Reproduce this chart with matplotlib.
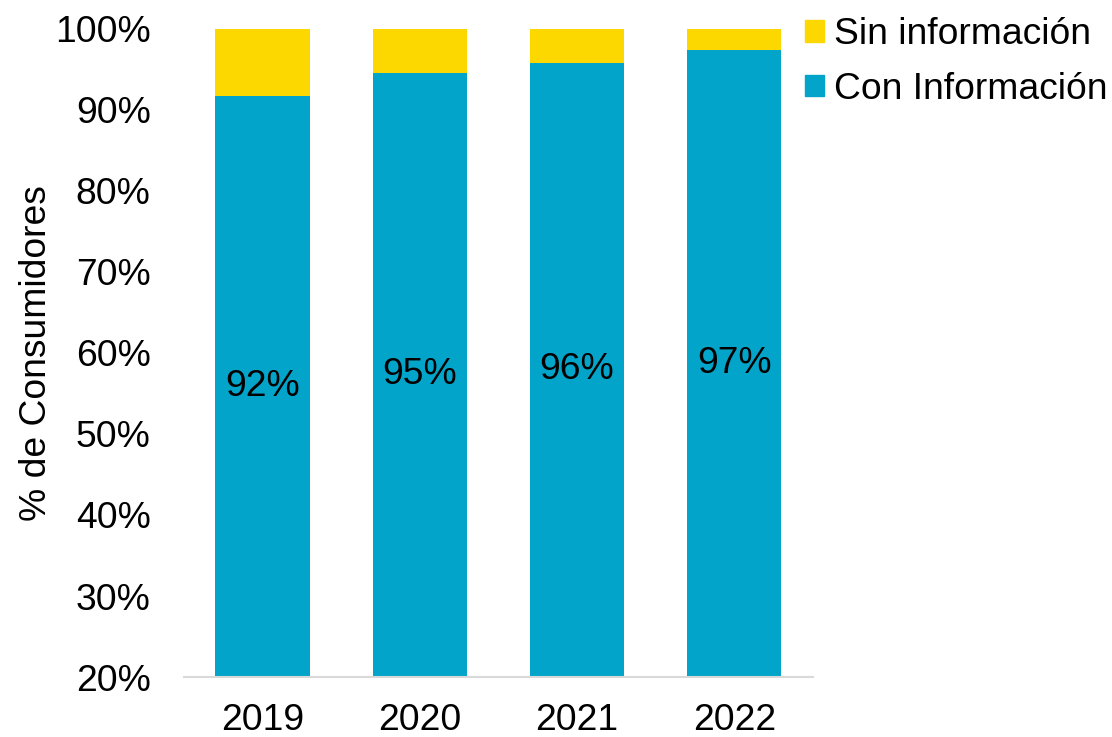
import numpy as np
import matplotlib.pyplot as plt
from matplotlib.patches import Patch

plt.rcParams['font.family'] = ['Liberation Sans', 'DejaVu Sans']

# porcentaje de consumidores por año
anios = ['2019', '2020', '2021', '2022']
con_info = [91.7, 94.6, 95.8, 97.4]
sin_info = [100 - v for v in con_info]

azul = '#02A5C9'
amarillo = '#FDD800'
fs = 26.8

fig = plt.figure(figsize=(11.12, 7.37), dpi=100)
ax = fig.add_axes([0.1655, 0.0814, 0.5655, 0.8793])

x = np.arange(len(anios))
ax.bar(x, con_info, width=0.6, color=azul)
ax.bar(x, sin_info, width=0.6, bottom=con_info, color=amarillo)

# etiquetas en el centro de la parte visible de cada barra
for xi, v in zip(x, con_info):
    ax.text(xi, (20 + v) / 2, f'{v:.0f}%', ha='center', va='center', fontsize=fs)

ax.set_xlim(-0.5, 3.5)
ax.set_ylim(20, 100)
ax.set_xticks(x)
ax.set_xticklabels(anios)
ax.set_yticks(range(20, 101, 10))
ax.set_yticklabels([f'{t}%' for t in range(20, 101, 10)])
ax.tick_params(axis='both', length=0, labelsize=fs)
ax.tick_params(axis='y', pad=24)
ax.tick_params(axis='x', pad=19)

for s in ['top', 'right', 'left']:
    ax.spines[s].set_visible(False)
ax.spines['bottom'].set_color('#D9D9D9')
ax.spines['bottom'].set_linewidth(1.5)

ax.set_ylabel('% de Consumidores', fontsize=fs, labelpad=1)

handles = [Patch(color=amarillo), Patch(color=azul)]
fig.legend(handles, ['Sin información', 'Con Información'], loc='upper left',
           bbox_to_anchor=(0.694, 1.022), frameon=False, fontsize=fs,
           handlelength=0.5, handleheight=0.5, handletextpad=0.28,
           labelspacing=0.52)

fig.savefig('out.png', dpi=100)
